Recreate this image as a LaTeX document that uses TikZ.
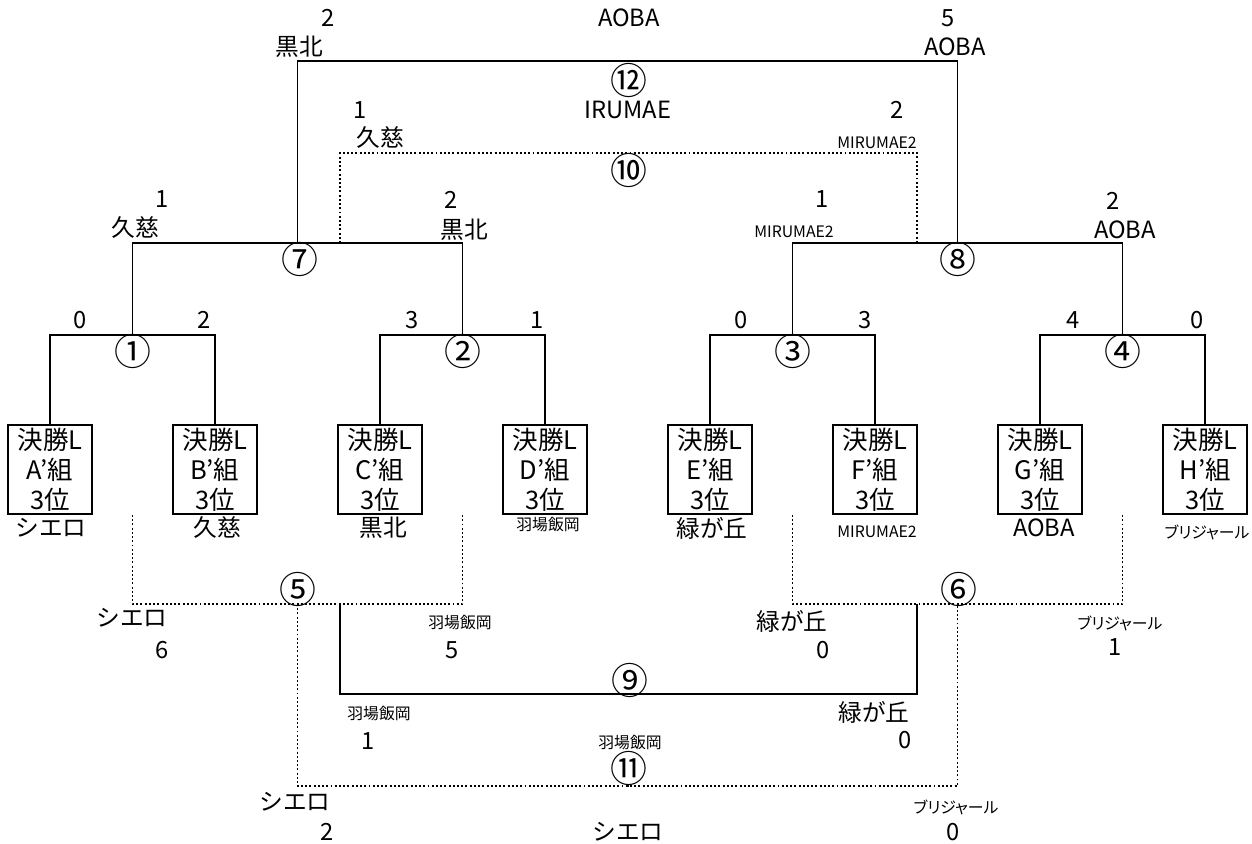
\documentclass[tikz,border=0pt]{standalone}
\usepackage{fontspec}
\newfontfamily\jp{Noto Sans CJK JP}
\newfontfamily\jpnarrow[RawFeature=+palt]{Noto Sans CJK JP}
\begin{document}
\begin{tikzpicture}[x=0.02cm, y=-0.02cm,
  line/.style={line width=1.1pt},
  dots/.style={line width=1.1pt, dash pattern=on 1.1pt off 1.3pt},
  entry/.style={draw, line width=1.1pt, minimum width=1.68cm, minimum height=1.78cm, inner sep=0pt, align=center, font=\jp\fontsize{14.5}{17}\selectfont},
  lbl/.style={inner sep=0pt, font=\jp\fontsize{13.5}{16}\selectfont},
  sml/.style={inner sep=0pt, font=\jpnarrow\fontsize{9}{11}\selectfont},
  num/.style={inner sep=0pt, font=\jp\fontsize{21}{24}\selectfont}
]
\useasboundingbox (0,0) rectangle (1252,843);

% first round: entry boxes
\foreach \g/\x in {A/50,B/215,C/380,D/545,E/710,F/875,G/1040,H/1205}
  \node[entry] (\g) at (\x,469.5) {決勝L\\\g’組\\3位};

% bar centres
\coordinate (m1) at (132.5,335);
\coordinate (m2) at (462.5,335);
\coordinate (m3) at (792.5,335);
\coordinate (m4) at (1122.5,335);
\coordinate (m7) at (297.5,243);
\coordinate (m8) at (957.5,243);
\coordinate (m12) at (627.5,61);
\coordinate (m10) at (628,153);
\coordinate (m5) at (297.5,604);
\coordinate (m6) at (957.5,604);
\coordinate (m9) at (628,694);
\coordinate (m11) at (627.5,786);
% off-centre ends
\coordinate (w7) at (340,243);
\coordinate (w8) at (917,243);
\coordinate (w5) at (340,604);
\coordinate (w6) at (917,604);
\coordinate (l1) at (132.5,515);
\coordinate (l2) at (462.5,515);
\coordinate (l3) at (792.5,515);
\coordinate (l4) at (1122.5,515);

% winners' side
\draw[line] (A.north) |- (m1) -| (B.north);
\draw[line] (C.north) |- (m2) -| (D.north);
\draw[line] (E.north) |- (m3) -| (F.north);
\draw[line] (G.north) |- (m4) -| (H.north);
\draw[line] (m1) |- (m7) -| (m2);
\draw[line] (m3) |- (m8) -| (m4);
\draw[line] (m7) |- (m12) -| (m8);
\draw[dots] (w7) |- (m10) -| (w8);
% losers' side
\draw[dots] (l1) |- (m5) -| (l2);
\draw[dots] (l3) |- (m6) -| (l4);
\draw[line] (w5) |- (m9) -| (w6);
\draw[dots] (m5) |- (m11) -| (m6);

% match numbers
\node[num] (c1) at (133,351) {①};
\node[num] (c2) at (463,351) {②};
\node[num] (c3) at (793,351) {③};
\node[num] (c4) at (1123,351) {④};
\node[num] (c5) at (298,589) {⑤};
\node[num] (c6) at (959,589) {⑥};
\node[num] (c7) at (300,259) {⑦};
\node[num] (c8) at (958,259) {⑧};
\node[num] (c9) at (630,680) {⑨};
\node[num] (c10) at (629,170) {⑩};
\node[num] (c11) at (629,768) {⑪};
\node[num] (c12) at (629,80) {⑫};

% first round scores
\node[lbl] (s1a) at (80,320) {0};
\node[lbl] (s1b) at (204,320) {2};
\node[lbl] (s2a) at (412,320) {3};
\node[lbl] (s2b) at (537,320) {1};
\node[lbl] (s3a) at (741,320) {0};
\node[lbl] (s3b) at (865,320) {3};
\node[lbl] (s4a) at (1073,320) {4};
\node[lbl] (s4b) at (1197,320) {0};

% teams under the boxes
\node[lbl] (tA) at (51,528) {シエロ};
\node[lbl] (tB) at (217,528) {久慈};
\node[lbl] (tC) at (383,528) {黒北};
\node[sml] (tD) at (548,525) {羽場飯岡};
\node[lbl] (tE) at (712,528) {緑が丘};
\node[sml] (tF) at (877,532) {MIRUMAE2};
\node[lbl] (tG) at (1044,528) {AOBA};
\node[sml] (tH) at (1207,532) {ブリジャール};

% matches 7 and 8
\node[lbl] (s7a) at (162,199) {1};
\node[lbl] (n7a) at (135,228) {久慈};
\node[lbl] (s7b) at (451,200) {2};
\node[lbl] (n7b) at (464,230) {黒北};
\node[lbl] (s8a) at (822,199) {1};
\node[sml] (n8a) at (794,232) {MIRUMAE2};
\node[lbl] (s8b) at (1113,201) {2};
\node[lbl] (n8b) at (1125,230) {AOBA};

% match 10
\node[lbl] (s10a) at (360,110) {1};
\node[lbl] (n10a) at (380,138) {久慈};
\node[lbl] (w10) at (628,110) {IRUMAE};
\node[lbl] (s10b) at (897,110) {2};
\node[sml] (n10b) at (877,143) {MIRUMAE2};

% match 12
\node[lbl] (s12a) at (328,18) {2};
\node[lbl] (n12a) at (299,47) {黒北};
\node[lbl] (w12) at (629,18) {AOBA};
\node[lbl] (s12b) at (948,18) {5};
\node[lbl] (n12b) at (955,47) {AOBA};

% matches 5 and 6
\node[lbl] (n5a) at (132,618) {シエロ};
\node[lbl] (s5a) at (162,650) {6};
\node[sml] (n5b) at (460,623) {羽場飯岡};
\node[lbl] (s5b) at (452,650) {5};
\node[lbl] (n6a) at (792,621) {緑が丘};
\node[lbl] (s6a) at (823,650) {0};
\node[sml] (n6b) at (1120,623) {ブリジャール};
\node[lbl] (s6b) at (1115,647) {1};

% match 9
\node[sml] (n9a) at (379,714) {羽場飯岡};
\node[lbl] (s9a) at (368,741) {1};
\node[lbl] (n9b) at (874,712) {緑が丘};
\node[lbl] (s9b) at (905,740) {0};
\node[sml] (w9) at (630,743) {羽場飯岡};

% match 11
\node[lbl] (n11a) at (295,802) {シエロ};
\node[lbl] (s11a) at (327,832) {2};
\node[sml] (n11b) at (956,807) {ブリジャール};
\node[lbl] (s11b) at (953,832) {0};
\node[lbl] (w11) at (628,832) {シエロ};
\end{tikzpicture}
\end{document}
